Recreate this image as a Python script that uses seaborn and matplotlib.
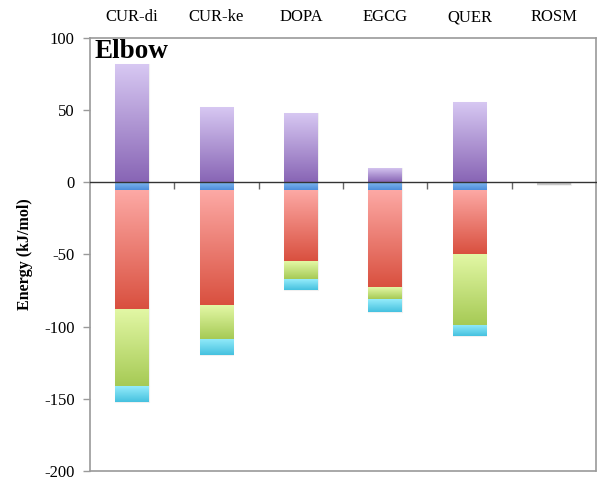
import numpy as np
import matplotlib
matplotlib.use("Agg")
import matplotlib.pyplot as plt
from matplotlib.colors import LinearSegmentedColormap
from matplotlib.ticker import FixedLocator
import seaborn as sns

# Energy decomposition per compound (kJ/mol)
categories = ["CUR-di", "CUR-ke", "DOPA", "EGCG", "QUER", "ROSM"]
purple = [82, 52, 48, 10, 56, 0]
blue = [-5.2, -5.2, -5.2, -5.2, -5.2, 0]
red = [-82.6, -80.1, -49.6, -67.4, -44.5, 0]
green = [-53.6, -22.9, -12.1, -8.3, -49.3, 0]
cyan = [-11.0, -11.5, -7.6, -8.7, -7.8, 0]
grey = [0, 0, 0, 0, 0, -2.0]
yticks = [100, 50, 0, -50, -100, -150, -200]

sns.set_theme(style="white")
plt.rcParams["font.family"] = ["Liberation Serif", "DejaVu Serif"]
plt.rcParams["axes.unicode_minus"] = False
plt.rcParams["text.color"] = "black"
plt.rcParams["axes.labelcolor"] = "black"
plt.rcParams["xtick.labelcolor"] = "black"
plt.rcParams["ytick.labelcolor"] = "black"

fig = plt.figure(figsize=(5.97, 4.87), dpi=100, facecolor="white")
ax = fig.add_axes([90 / 597, 16 / 487, 506 / 597, 433 / 487])

# (values, top colour, bottom colour, stacked below zero?)
layers = [
    (purple, "#d8c9f3", "#8865b5", False),
    (blue, "#80b6ef", "#4d8ddb", True),
    (red, "#fdaaa6", "#d9503f", True),
    (green, "#e3f8a6", "#a6ca55", True),
    (cyan, "#95ecfb", "#45c1df", True),
    (grey, "#c8c8c8", "#c8c8c8", False),
]

neg_base = np.zeros(len(categories))
for vals, ctop, cbot, stacked in layers:
    vals = np.asarray(vals, dtype=float)
    base = neg_base.copy() if stacked else np.zeros_like(vals)
    n_before = len(ax.patches)
    sns.barplot(x=categories, y=vals, order=categories, bottom=base,
                width=0.4, color=ctop, errorbar=None, ax=ax)
    cmap = LinearSegmentedColormap.from_list("seg", [ctop, cbot])
    grad = np.linspace(0, 1, 256).reshape(-1, 1)
    for patch in ax.patches[n_before:]:
        h = patch.get_height()
        if abs(h) < 1e-9:
            patch.set_visible(False)
            continue
        x0, w, y0 = patch.get_x(), patch.get_width(), patch.get_y()
        lo, hi = sorted([y0, y0 + h])
        patch.set_facecolor("none")
        patch.set_edgecolor("#f0f0f0")
        patch.set_linewidth(0.8)
        im = ax.imshow(grad, extent=[x0, x0 + w, lo, hi], origin="upper",
                       aspect="auto", cmap=cmap, zorder=1.5,
                       interpolation="bilinear")
        im.set_clip_path(patch)
    if stacked:
        neg_base += vals

ax.set_xlim(-0.5, len(categories) - 0.5)
ax.set_ylim(-200, 100)
ax.set_xlabel("")

# frame
for side in ["left", "right", "top"]:
    ax.spines[side].set_color("#9a9a9a")
    ax.spines[side].set_linewidth(1.2)
ax.spines["bottom"].set_position(("data", 0))
ax.spines["bottom"].set_color("#333333")
ax.spines["bottom"].set_linewidth(1.0)
ax.axhline(-200, color="#9a9a9a", lw=1.2, clip_on=False, zorder=3)

# category labels along the top, separator ticks on the zero line
ax.set_xticks(range(len(categories)))
ax.set_xticklabels(categories)
ax.xaxis.set_minor_locator(FixedLocator(np.arange(0.5, len(categories) - 0.5, 1)))
ax.tick_params(axis="x", which="major", bottom=False, top=False,
               labelbottom=False, labeltop=True, labelsize=12, pad=3)
ax.tick_params(axis="x", which="minor", bottom=True, top=False,
               length=5, width=1, color="#666666", direction="out")

ax.set_yticks(yticks)
ax.set_yticklabels([str(t) for t in yticks])
ax.tick_params(axis="y", left=True, length=5, width=1, color="#9a9a9a",
               labelsize=12, pad=6)

ax.set_ylabel("Energy (kJ/mol)", fontsize=11.5, fontweight="bold")
ax.yaxis.set_label_coords(-0.113, 0.5)

ax.text(0.008, 0.997, "Elbow", transform=ax.transAxes, fontsize=19.5,
        fontweight="bold", va="top", ha="left", zorder=6)

fig.savefig("out.png", dpi=100, facecolor="white")
